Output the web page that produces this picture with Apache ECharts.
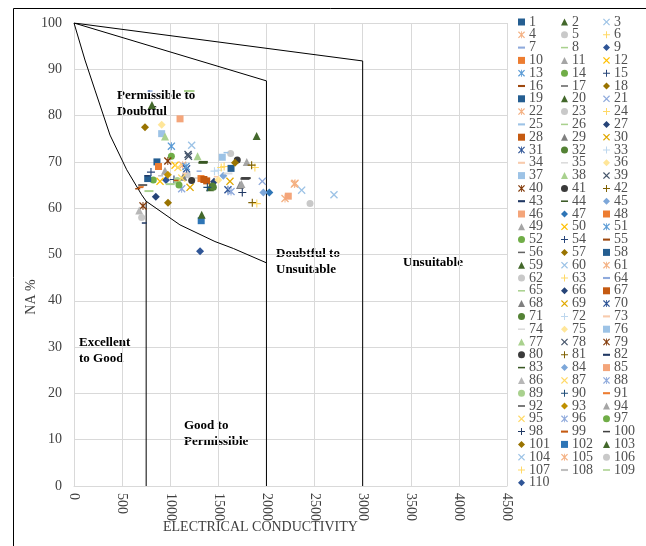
<!DOCTYPE html>
<html><head><meta charset="utf-8">
<script src="https://cdn.jsdelivr.net/npm/echarts@6/dist/echarts.min.js"></script>
<style>html,body{margin:0;padding:0;background:#fff}#c{width:646px;height:546px}</style>
</head><body><div id="c"></div>
<script>
// ---------- DATA ----------
const sampleNames = ['1','2','3','4','5','6','7','8','9','10','11','12','13','14','15','16','17','18','19','20',
'21','22','23','24','25','26','27','28','29','30','31','32','33','34','35','36','37','38','39','40',
'41','42','43','44','45','46','47','48','49','50','51','52','54','55','56','57','58','59','60',
'61','62','63','64','65','66','67','68','69','70','71','72','73','74','75','76','77','78','79','80',
'81','82','83','84','85','86','87','88','89','90','91','92','93','94','95','96','97','98','99','100',
'101','102','103','104','105','106','107','108','109','110'];
const ecValues = [862,810,1223,1129,1628,1560,790,1206,956,878,1795,1050,1012,1012,800,662,1777,738,1632,1898,
1957,2297,1178,1880,1580,779,1455,1379,1136,1206,1170,1440,1500,1150,1250,911,911,946,1185,975,
1697,1846,731,1344,1552,1102,2030,1320,946,894,1164,824,1039,690,714,1673,766,1413,2366,
2193,2453,1530,1300,1000,850,1350,1725,1621,1600,1448,1460,1480,1600,1500,1541,1284,1190,717,1223,
1853,760,1340,1968,2227,678,1080,1119,1074,1386,700,1780,975,1740,1120,1632,1091,1749,1060,1790,
977,1322,1327,2702,2290,703,1900,900,1190,1310];
const naValues = [70.0,82.3,73.6,69.3,71.8,69.0,85.3,85.3,66.1,69.0,70.0,69.3,73.4,71.2,67.8,64.2,66.3,77.5,68.6,75.6,
65.8,65.4,67.2,68.8,72.0,63.7,65.7,65.9,66.8,64.5,68.5,64.8,68.2,67.5,66.5,78.0,76.1,75.5,71.6,70.2,
70.4,69.3,56.8,70.0,67.0,79.3,63.4,66.4,68.1,65.8,69.0,66.1,66.2,64.5,65.0,69.8,66.4,64.5,63.9,
62.1,61.0,68.8,68.0,65.2,62.5,66.2,65.0,65.8,64.0,64.5,68.0,66.8,67.5,66.1,71.0,71.2,71.2,60.5,66.0,
61.2,67.0,69.8,63.4,62.6,59.5,68.8,64.2,66.0,64.5,64.6,66.5,67.2,65.2,66.5,63.6,65.0,63.4,66.0,66.5,
61.2,57.3,58.6,62.9,65.2,58.0,61.0,67.0,85.3,50.7];
const xTickValues = [0,500,1000,1500,2000,2500,3000,3500,4000,4500];
const yTickValues = [0,10,20,30,40,50,60,70,80,90,100];
// Wilcox boundary lines
const curveEC = [0,114,218,374,548,703,750,1101,1465,1656,2000];
const curveNA = [100,92,85.5,75.8,68.3,62.9,61.5,56.4,52.8,51.3,48.2];
const midEC = [0,2000,2000];   const midNA = [100,87.5,0];
const outerEC = [0,3000,3000]; const outerNA = [100,91.8,0];
const lowEC = [750,750];       const lowNA = [61.5,0];

// ---------- STYLES (marker code + colour per sample, in order) ----------
const styleList = [
['sq','#255E91'],['tr','#43682B'],['x','#9DC3E6'],['st','#F4B183'],['ci','#C9C9C9'],['pl','#FFD966'],['sd','#8FAADC'],['ld','#A9D18E'],['di','#2F5597'],
['sq','#ED7D31'],['tr','#A5A5A5'],['x','#FFC000'],['st','#5B9BD5'],['ci','#70AD47'],['pl','#264478'],['sd','#9E480E'],['ld','#636363'],['di','#997300'],
['sq','#255E91'],['tr','#43682B'],['x','#8FAADC'],['st','#F4B183'],['ci','#C9C9C9'],['pl','#FFD966'],['sd','#9DC3E6'],['ld','#A9D18E'],['di','#264478'],
['sq','#C55A11'],['tr','#7F7F7F'],['x','#E0A800'],['st','#2F5597'],['ci','#548235'],['pl','#BDD7EE'],['sd','#F8CBAD'],['ld','#DBDBDB'],['di','#FFE699'],
['sq','#9DC3E6'],['tr','#A9D18E'],['x','#44546A'],['st','#843C0C'],['ci','#3A3A3A'],['pl','#7F6000'],['sd','#203864'],['ld','#385723'],['di','#7DA7D9'],
['sq','#F4A57A'],['di','#2E75B6'],['sq','#ED7D31'],['tr','#A5A5A5'],['x','#FFC000'],['st','#5B9BD5'],['ci','#70AD47'],
['pl','#264478'],['sd','#9E480E'],['ld','#636363'],['di','#997300'],['sq','#255E91'],['tr','#43682B'],['x','#9DC3E6'],
['st','#F4B183'],['ci','#C9C9C9'],['pl','#FFD966'],['sd','#8FAADC'],['ld','#A9D18E'],['di','#264478'],['sq','#C55A11'],['tr','#7F7F7F'],['x','#E0A800'],
['st','#2F5597'],['ci','#548235'],['pl','#BDD7EE'],['sd','#F8CBAD'],['ld','#DBDBDB'],['di','#FFE699'],['sq','#9DC3E6'],['tr','#A9D18E'],['x','#44546A'],
['st','#843C0C'],['ci','#3A3A3A'],['pl','#7F6000'],['sd','#203864'],['ld','#385723'],['di','#7DA7D9'],['sq','#F4A57A'],['tr','#B7B7B7'],['x','#FFD966'],
['st','#8FAADC'],['ci','#A9D18E'],['pl','#1F4E79'],['sd','#ED7D31'],['ld','#525252'],['di','#BF9000'],['tr','#A5A5A5'],['x','#FFD966'],['st','#8FAADC'],
['ci','#70AD47'],['pl','#203864'],['sd','#C55A11'],['ld','#404040'],['di','#997300'],['sq','#2E75B6'],['tr','#43682B'],['x','#9DC3E6'],['st','#F4B183'],
['ci','#C9C9C9'],['pl','#FFD966'],['sd','#BFBFBF'],['ld','#A9D18E'],['di','#2F5597']
];

const XPATH = 'M0,1.2L1.2,0L5,3.8L8.8,0L10,1.2L6.2,5L10,8.8L8.8,10L5,6.2L1.2,10L0,8.8L3.8,5Z';
const symbolDefs = {
  sq: {symbol:'rect', size:7},
  tr: {symbol:'triangle', size:8},
  di: {symbol:'diamond', size:8},
  ci: {symbol:'circle', size:7},
  x:  {symbol:'path://' + XPATH, size:8},
  st: {symbol:'path://' + XPATH + 'M4.4,0H5.6V10H4.4Z', size:8},
  pl: {symbol:'path://M4.3,0H5.7V4.3H10V5.7H5.7V10H4.3V5.7H0V4.3H4.3Z', size:8},
  sd: {symbol:'path://M0,0H10V3H0Z', size:5},
  ld: {symbol:'path://M0,0H10V2.2H0Z', size:9}
};

const SERIF = 'Liberation Serif';
const lineStyle = {color:'#000', width:1};
function zipXY(xs, ys){ return xs.map((v,i)=>[v, ys[i]]); }

const series = sampleNames.map((name, i) => {
  const st = styleList[i], d = symbolDefs[st[0]];
  return {
    type:'scatter', name: name, data:[[ecValues[i], naValues[i]]],
    symbol: d.symbol, symbolSize: d.size, symbolKeepAspect: true,
    itemStyle:{color: st[1], opacity:1}, z: 5, silent: true
  };
});
const boundaryDefs = [[curveEC, curveNA],[midEC, midNA],[outerEC, outerNA],[lowEC, lowNA]];
boundaryDefs.forEach(([xs, ys]) => series.push({
  type:'line', data: zipXY(xs, ys), symbol:'none', smooth: false,
  lineStyle: lineStyle, z: 3, silent: true
}));

const legends = [0,1,2].map(c => ({
  orient:'vertical', left: [518, 561, 603][c], top: 15, padding: 0, height: 530,
  itemWidth: 7, itemHeight: 7, itemGap: -1.2, selectedMode: false,
  textStyle:{fontFamily: SERIF, fontSize: 14, color:'#505050', padding:[0,0,0,-1]},
  data: sampleNames.filter((_, i) => i % 3 === c)
}));

function label(text, x, y){
  return {type:'text', left: x, top: y, style:{text: text, font:'bold 13px "Liberation Serif"', fill:'#000', lineHeight: 16}};
}

const chart = echarts.init(document.getElementById('c'), null, {renderer:'canvas'});
chart.setOption({
  animation: false,
  backgroundColor:'#fff',
  grid:{left:74, right:139, top:23, bottom:60},
  xAxis:{type:'value', min: xTickValues[0], max: xTickValues[xTickValues.length-1], interval: xTickValues[1]-xTickValues[0],
    axisLine:{show:true, lineStyle:{color:'#D9D9D9'}}, axisTick:{show:false},
    splitLine:{show:true, lineStyle:{color:'#D9D9D9', width:1}},
    axisLabel:{rotate:-90, margin:7, fontFamily: SERIF, fontSize: 14, color:'#404040', formatter: v => String(v)}},
  yAxis:{type:'value', min: yTickValues[0], max: yTickValues[yTickValues.length-1], interval: yTickValues[1]-yTickValues[0],
    axisLine:{show:true, lineStyle:{color:'#D9D9D9'}}, axisTick:{show:false},
    splitLine:{show:true, lineStyle:{color:'#D9D9D9', width:1}},
    axisLabel:{margin:12, fontFamily: SERIF, fontSize: 14, color:'#404040', formatter: v => String(v)}},
  legend: legends,
  series: series,
  graphic: [
    {type:'rect', shape:{x:13.5, y:8.5, width:700, height:700}, style:{fill:'none', stroke:'#000', lineWidth:1}, silent:true},
    label('Permissible to\nDoubtful', 117, 88),
    label('Doubtful to\nUnsuitable', 276, 246),
    label('Unsuitable', 403, 255),
    label('Excellent\nto Good', 79, 335),
    label('Good to\nPermissible', 184, 418),
    {type:'text', left: 163, top: 520, style:{text:'ELECTRICAL CONDUCTIVITY', font:'14px "Liberation Serif"', fill:'#404040'}},
    {type:'text', x: 31, y: 297, rotation: Math.PI/2, style:{text:'NA %', font:'14px "Liberation Serif"', fill:'#404040', align:'center', verticalAlign:'middle'}}
  ]
});
</script></body></html>
